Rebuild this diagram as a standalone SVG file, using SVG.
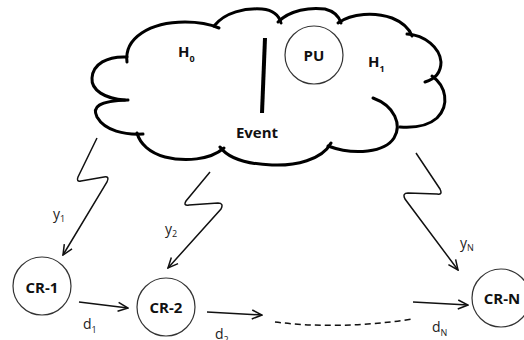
<svg xmlns="http://www.w3.org/2000/svg" width="524" height="340" viewBox="0 0 524 340">
<defs>
<style>
.cloud path{fill:none;stroke:#000;stroke-width:3;stroke-linecap:round}
.node circle{fill:#fff;stroke:#333;stroke-width:1.2}
.b{font-family:"Open Sans","DejaVu Sans",sans-serif;font-weight:bold;font-size:15px;fill:#111}
.l{font-family:"Open Sans","DejaVu Sans",sans-serif;font-size:14px;fill:#222}
.s{font-size:9px}
.conn path{fill:none;stroke:#111;stroke-width:1.5}
.dash{stroke-dasharray:6 4}
</style>
<marker id="ah" viewBox="0 0 12 12" refX="11" refY="6" markerWidth="12" markerHeight="12" markerUnits="userSpaceOnUse" orient="auto">
<path d="M1,1.5 L11,6 L1,10.5" fill="none" stroke="#111" stroke-width="1.5"/>
</marker>
</defs>
<rect width="524" height="340" fill="#fff"/>
<g id="cloud" class="cloud">
<path d="M127,62 C124,38 150,22 185,22 C200,22 212,25 219,28"/>
<path d="M214,26 C225,12 245,8 262,9 C272,10 279,15 281,23"/>
<path d="M278,22 C290,10 310,7 325,9 C333,11 339,16 341,23"/>
<path d="M338,23 C352,13 375,12 392,18 C402,22 409,28 412,36"/>
<path d="M407,34 C425,35 440,48 441,62 C441,72 435,79 425,82"/>
<path d="M432,76 C446,86 450,105 437,118 C428,126 414,128 400,127"/>
<path d="M373,98 C395,106 402,125 394,138 C385,152 355,156 328,146"/>
<path d="M331,143 C322,160 295,166 272,165 C245,164 228,158 220,147"/>
<path d="M224,148 C210,160 185,162 165,157 C150,153 140,144 137,133"/>
<path d="M143,134 C125,135 105,131 97,117 C92,107 98,101 128,100"/>
<path d="M125,100 C105,99 91,90 92,78 C93,64 107,56 127,57"/>
<path d="M265,38 L262,113" style="stroke-width:4;stroke-linecap:butt"/>
<text class="b" x="178" y="57">H<tspan class="s" dy="5">0</tspan></text>
<text class="b" x="368" y="67">H<tspan class="s" dy="5">1</tspan></text>
<text class="b" x="257" y="138" text-anchor="middle">Event</text>
</g>
<g id="pu" class="node">
<circle cx="314" cy="55" r="29"/>
<text class="b" x="314" y="61" text-anchor="middle">PU</text>
</g>
<g id="cr1" class="node">
<circle cx="42" cy="286" r="29"/>
<text class="b" x="42" y="293" text-anchor="middle">CR-1</text>
</g>
<g id="cr2" class="node">
<circle cx="166" cy="307" r="29"/>
<text class="b" x="166" y="313" text-anchor="middle">CR-2</text>
</g>
<g id="crn" class="node">
<circle cx="501" cy="298" r="29"/>
<text class="b" x="502" y="304" text-anchor="middle">CR-N</text>
</g>
<g id="connectors" class="conn">
<path d="M97,138 L78,177 Q76,182 81,181 L104,177 Q110,176 107,182 L63,255" marker-end="url(#ah)"/>
<path d="M210,172 L186,201 Q183,206 189,205 L218,203 Q224,203 221,209 L168,268" marker-end="url(#ah)"/>
<path d="M416,153 L440,189 Q443,195 437,194 L408,193 Q402,193 405,199 L458,270" marker-end="url(#ah)"/>
<path d="M79,302 L128,308" marker-end="url(#ah)"/>
<path d="M207,312 L262,315" marker-end="url(#ah)"/>
<path class="dash" d="M275,322 Q340,330 413,319"/>
<path d="M413,302 L468,305" marker-end="url(#ah)"/>
</g>
<g id="labels">
<text class="l" x="53" y="219">y<tspan class="s" dy="3">1</tspan></text>
<text class="l" x="165" y="234">y<tspan class="s" dy="3">2</tspan></text>
<text class="l" x="460" y="248">y<tspan class="s" dy="3">N</tspan></text>
<text class="l" x="83" y="329">d<tspan class="s" dy="4">1</tspan></text>
<text class="l" x="215" y="339">d<tspan class="s" dy="4">2</tspan></text>
<text class="l" x="432" y="332">d<tspan class="s" dy="4">N</tspan></text>
</g>
</svg>
